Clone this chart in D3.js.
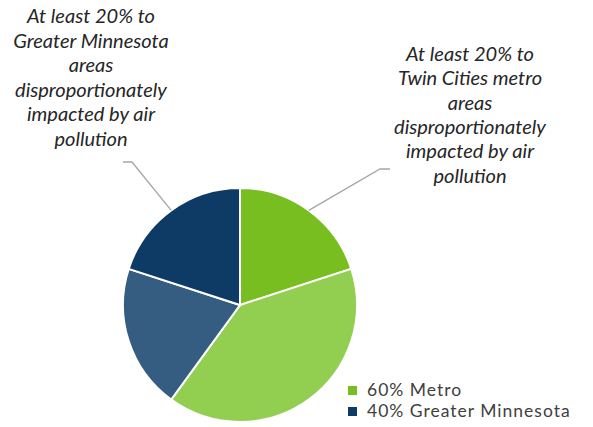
<!DOCTYPE html>
<html>
<head>
<meta charset="utf-8">
<script src="https://cdn.jsdelivr.net/npm/d3@7"></script>
<style>
  html, body { margin: 0; padding: 0; background: #fff; }
  svg { display: block; }
</style>
</head>
<body>
<svg id="chart" width="593" height="427"></svg>
<script>
// ---- data ----
const sliceLabels = ["Metro (areas impacted)", "Metro (other)", "Greater Minnesota (other)", "Greater Minnesota (areas impacted)"];
const sliceValues = [20, 40, 20, 20];
const sliceColors = ["#78BE21", "#92CE50", "#355D82", "#0E3A66"];
const legendLabels = ["60% Metro", "40% Greater Minnesota"];
const legendColors = ["#78BE21", "#0E3A66"];
const calloutLeft = ["At least 20% to", "Greater Minnesota", "areas", "disproportionately", "impacted by air", "pollution"];
const calloutRight = ["At least 20% to", "Twin Cities metro", "areas", "disproportionately", "impacted by air", "pollution"];

const svg = d3.select("#chart");
const cx = 240, cy = 305, r = 117;
const FONT = "Lato, 'Open Sans', 'DejaVu Sans', sans-serif";

const pie = d3.pie().sort(null).value(d => d)(sliceValues);
const arc = d3.arc().innerRadius(0).outerRadius(r);
const edge = d3.arc().innerRadius(r).outerRadius(r);

const g = svg.append("g").attr("transform", `translate(${cx},${cy})`);
g.selectAll("path.slice").data(pie).join("path")
  .attr("class", "slice")
  .attr("d", arc)
  .attr("fill", (d, i) => sliceColors[i])
  .attr("stroke", "#fff")
  .attr("stroke-width", 2);

// leader lines
function leader(sliceIdx, elbow, end) {
  const c = edge.centroid(pie[sliceIdx]);
  const pts = [[c[0] + cx, c[1] + cy], elbow, end];
  svg.append("path")
    .attr("d", d3.line()(pts))
    .attr("fill", "none")
    .attr("stroke", "#A6A6A6")
    .attr("stroke-width", 1.3);
}
leader(3, [132, 162], [123, 162]);
leader(0, [380, 169], [390, 169]);

// text fitting helper
function fitSize(text, targetW, style) {
  const t = svg.append("text").attr("font-family", FONT).attr("font-size", 100)
    .attr("font-style", style).text(text);
  const w = t.node().getComputedTextLength();
  t.remove();
  return 100 * targetW / w;
}

const calloutSize = fitSize("disproportionately", 152, "italic");
function callout(lines, x, y0, dy) {
  svg.append("g").selectAll("text").data(lines).join("text")
    .attr("x", x)
    .attr("y", (d, i) => y0 + i * dy)
    .attr("text-anchor", "middle")
    .attr("font-family", FONT)
    .attr("font-style", "italic")
    .attr("font-size", calloutSize)
    .attr("fill", "#262626")
    .text(d => d);
}
callout(calloutLeft, 91, 23, 24.6);
callout(calloutRight, 470, 61, 24.3);

// legend
const legSize = 17.5;
const leg = svg.append("g");
const items = leg.selectAll("g").data(legendLabels).join("g")
  .attr("transform", (d, i) => `translate(348,${386 + i * 21})`);
items.append("rect").attr("width", 9).attr("height", 9)
  .attr("fill", (d, i) => legendColors[i]);
items.append("text")
  .attr("x", 19).attr("y", 9.5)
  .attr("font-family", FONT)
  .attr("font-size", legSize)
  .attr("letter-spacing", 1)
  .attr("fill", "#404040")
  .text(d => d);
</script>
</body>
</html>
